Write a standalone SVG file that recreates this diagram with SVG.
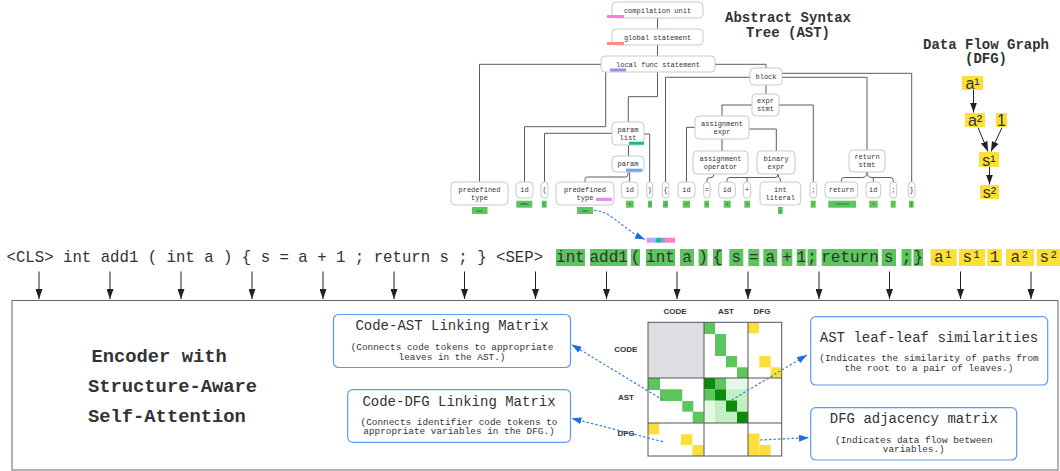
<svg xmlns="http://www.w3.org/2000/svg" width="1060" height="471" viewBox="0 0 1060 471">
<style>
.n{fill:#fff;stroke:#c6c9d1;stroke-width:1}
.t{font-family:"Liberation Mono",monospace;font-size:7px;fill:#333;text-anchor:middle}
.tg{fill:#5cc55c}
.tt{font-family:"Liberation Mono",monospace;font-size:3.6px;fill:#234;text-anchor:middle}
.c{fill:none;stroke:#585d65;stroke-width:1}
.ttl{font-family:"Liberation Mono",monospace;font-size:14px;font-weight:bold;fill:#333;text-anchor:middle}
.tok{font-family:"Liberation Mono",monospace;font-size:16px;fill:#333;text-anchor:middle}
.gb{fill:#5cc55c}
.yb{fill:#fddf3a}
.dn{stroke:#222;stroke-width:1;marker-end:url(#ah)}
.bx{fill:#fff;stroke:#5a9bef;stroke-width:1.2}
.bt{font-family:"Liberation Mono",monospace;font-size:14px;fill:#333;text-anchor:middle}
.bs{font-family:"Liberation Mono",monospace;font-size:9.4px;fill:#333;text-anchor:middle}
.ml{font-family:"Liberation Sans",Arial,sans-serif;font-size:8px;font-weight:bold;fill:#333;text-anchor:middle}
.bd{fill:none;stroke:#3b7ddd;stroke-width:1.2;stroke-dasharray:2.5,2;marker-end:url(#bh)}
.dfg{font-family:"Liberation Sans",Arial,sans-serif;font-size:16px;fill:#333;text-anchor:middle}
.enc{font-family:"Liberation Mono",monospace;font-size:18.8px;font-weight:bold;fill:#333}
</style>
<defs>
<marker id="ah" markerUnits="userSpaceOnUse" markerWidth="10" markerHeight="7" refX="10" refY="3.5" orient="auto"><path d="M0,0 L10,3.5 L0,7 z" fill="#222"/></marker>
<marker id="bh" markerUnits="userSpaceOnUse" markerWidth="10" markerHeight="7" refX="10" refY="3.5" orient="auto"><path d="M0,0 L10,3.5 L0,7 z" fill="#1a6fe0"/></marker>
</defs>
<rect width="1060" height="471" fill="#fff"/>

<!-- titles -->
<g id="ast-title"><text class="ttl" x="788" y="22.3">Abstract Syntax</text><text class="ttl" x="788" y="37.3">Tree (AST)</text></g>
<g id="dfg-title"><text class="ttl" x="986" y="48.5">Data Flow Graph</text><text class="ttl" x="986" y="63">(DFG)</text></g>

<!-- AST connectors -->
<g id="ast-connectors" class="c">
<path d="M657.5,18 V29"/>
<path d="M657.5,45 V56"/>
<path d="M601,64.3 H479.5 V182"/>
<path d="M605.7,72 V126.7 H524.5 V182"/>
<path d="M657.5,72 V96.7 H628.3 V122"/>
<path d="M612,133.3 H544.5 V182"/>
<path d="M644,134 H649.7 V182"/>
<path d="M628.5,145 V156"/>
<path d="M628,172 V174.5 Q628,177 625.5,177 H587.5 Q585,177 585,179.5 V182"/>
<path d="M629.7,172 V182"/>
<path d="M715,64.3 H766 V68"/>
<path d="M750,77.3 H665.5 V182"/>
<path d="M782,73.3 H911.7 V182"/>
<path d="M782,77.3 H867 V150"/>
<path d="M766,85 V94"/>
<path d="M752,105 H722 V116"/>
<path d="M779,105 H813.3 V182"/>
<path d="M695,127.3 H686.5 V182"/>
<path d="M749,129 H776.3 V151"/>
<path d="M722,139 V151"/>
<path d="M714,174 Q714,177.5 711,177.5 H710 Q707,177.5 707,180 V182"/>
<path d="M778,174 Q778,177.5 775,177.5 H730 Q727,177.5 727,180 V182"/>
<path d="M747,177.5 V182"/>
<path d="M778,174 Q778,177.5 780.3,179 V182"/>
<path d="M867,172 Q867,177.5 862,177.5 H844.5 Q841.3,177.5 841.3,180 V182"/>
<path d="M867,172 Q867,177.5 872,177.5 H890 Q893.3,177.5 893.3,180 V182"/>
<path d="M873.3,177.5 V182"/>
</g>

<!-- AST interior nodes -->
<g id="n-compilation-unit"><rect class="n" x="612" y="2" width="91" height="16" rx="4"/><text class="t" x="657.5" y="12.5">compilation unit</text><rect x="607" y="15" width="17" height="3" fill="#ff7ad9"/></g>
<g id="n-global-statement"><rect class="n" x="612" y="29" width="91" height="16" rx="4"/><text class="t" x="657.5" y="39.5">global statement</text><rect x="607" y="42" width="17" height="3" fill="#ff8a8a"/></g>
<g id="n-local-func"><rect class="n" x="601" y="56" width="114" height="16" rx="4"/><text class="t" x="658" y="66.5">local func statement</text><rect x="610" y="68.5" width="16" height="3" fill="#8f8ff2"/></g>
<g id="n-block"><rect class="n" x="750" y="68" width="32" height="17" rx="4"/><text class="t" x="766" y="79.3">block</text></g>
<g id="n-expr-stmt"><rect class="n" x="752" y="94" width="27" height="22" rx="4"/><text class="t" x="765.5" y="102.5">expr</text><text class="t" x="765.5" y="110.8">stmt</text></g>
<g id="n-param-list"><rect class="n" x="612" y="122" width="32" height="23" rx="4"/><text class="t" x="628" y="131.8">param</text><text class="t" x="628" y="139.8">list</text><rect x="629" y="141.7" width="15" height="3" fill="#17b897"/></g>
<g id="n-param"><rect class="n" x="612" y="156" width="32" height="16" rx="4"/><text class="t" x="628" y="166.3">param</text><rect x="626" y="168.7" width="16" height="3" fill="#6aa7f7"/></g>
<g id="n-assignment-expr"><rect class="n" x="695" y="116" width="54" height="23" rx="4"/><text class="t" x="722" y="125.8">assignment</text><text class="t" x="722" y="134.3">expr</text></g>
<g id="n-assignment-operator"><rect class="n" x="693" y="151" width="55" height="23" rx="4"/><text class="t" x="720.5" y="161">assignment</text><text class="t" x="720.5" y="169">operator</text></g>
<g id="n-binary-expr"><rect class="n" x="757" y="151" width="38" height="23" rx="4"/><text class="t" x="776" y="161">binary</text><text class="t" x="776" y="169">expr</text></g>
<g id="n-return-stmt"><rect class="n" x="849" y="150" width="36" height="22" rx="4"/><text class="t" x="867" y="158.8">return</text><text class="t" x="867" y="166.8">stmt</text></g>

<!-- AST leaves -->
<g id="l-pt1"><rect class="n" x="451" y="182" width="57" height="23" rx="4"/><text class="t" x="479.5" y="191.5">predefined</text><text class="t" x="479.5" y="199.7">type</text><rect class="tg" x="472" y="207" width="15.5" height="7"/><text class="tt" x="479.7" y="211.8">int</text></g>
<g id="l-id1"><rect class="n" x="516" y="182" width="17" height="16" rx="4"/><text class="t" x="524.5" y="192.3">id</text><rect class="tg" x="516.3" y="200.7" width="16" height="7"/><text class="tt" x="524.3" y="205.4">add1</text></g>
<g id="l-lp"><rect class="n" x="541" y="182" width="7" height="16" rx="3"/><text class="t" x="544.5" y="192.3">(</text><rect class="tg" x="541.7" y="200.7" width="5" height="7"/><text class="tt" x="544.2" y="205.4">(</text></g>
<g id="l-pt2"><rect class="n" x="556" y="182" width="58" height="23" rx="4"/><text class="t" x="585" y="191.5">predefined</text><text class="t" x="585" y="199.7">type</text><rect x="596" y="197.7" width="16" height="3.3" fill="#dd8ff2"/><rect class="tg" x="577" y="207" width="16" height="7"/><text class="tt" x="585" y="211.8">int</text></g>
<g id="l-id2"><rect class="n" x="621.3" y="182" width="16.7" height="16" rx="4"/><text class="t" x="629.7" y="192.3">id</text><rect class="tg" x="626" y="200.7" width="7.7" height="7"/><text class="tt" x="629.8" y="205.4">a</text></g>
<g id="l-rp"><rect class="n" x="646.7" y="182" width="6" height="16" rx="3"/><text class="t" x="649.7" y="192.3">)</text><rect class="tg" x="648" y="200.7" width="4" height="7"/><text class="tt" x="650" y="205.4">)</text></g>
<g id="l-lb"><rect class="n" x="662.3" y="182" width="6.4" height="16" rx="3"/><text class="t" x="665.5" y="192.3">{</text><rect class="tg" x="663" y="200.7" width="5" height="7"/><text class="tt" x="665.5" y="205.4">{</text></g>
<g id="l-id3"><rect class="n" x="678" y="182" width="17" height="16" rx="4"/><text class="t" x="686.5" y="192.3">id</text><rect class="tg" x="682.7" y="200.7" width="7.3" height="7"/><text class="tt" x="686.3" y="205.4">s</text></g>
<g id="l-eq"><rect class="n" x="703.7" y="182" width="6.3" height="16" rx="3"/><text class="t" x="706.9" y="192.3">=</text><rect class="tg" x="704.3" y="200.7" width="4.7" height="7"/><text class="tt" x="706.7" y="205.4">=</text></g>
<g id="l-id4"><rect class="n" x="718.7" y="182" width="16.6" height="16" rx="4"/><text class="t" x="727" y="192.3">id</text><rect class="tg" x="723.7" y="200.7" width="7" height="7"/><text class="tt" x="727.2" y="205.4">a</text></g>
<g id="l-plus"><rect class="n" x="743.3" y="182" width="7.4" height="16" rx="3"/><text class="t" x="747" y="192.3">+</text><rect class="tg" x="744.3" y="200.7" width="5.7" height="7"/><text class="tt" x="747.2" y="205.4">+</text></g>
<g id="l-intlit"><rect class="n" x="760" y="182" width="40.7" height="23" rx="4"/><text class="t" x="780.3" y="191.5">int</text><text class="t" x="780.3" y="199.7">literal</text><rect class="tg" x="778" y="207" width="4.7" height="7"/><text class="tt" x="780.3" y="211.8">1</text></g>
<g id="l-semi1"><rect class="n" x="810" y="182" width="6.7" height="16" rx="3"/><text class="t" x="813.3" y="192.3">;</text><rect class="tg" x="810.7" y="200.7" width="5" height="7"/><text class="tt" x="813.2" y="205.4">;</text></g>
<g id="l-return"><rect class="n" x="825" y="182" width="32.7" height="16" rx="4"/><text class="t" x="841.3" y="192.3">return</text><rect class="tg" x="828.3" y="200.7" width="27.7" height="7"/><text class="tt" x="842.1" y="205.4">return</text></g>
<g id="l-id5"><rect class="n" x="866" y="182" width="14.7" height="16" rx="4"/><text class="t" x="873.3" y="192.3">id</text><rect class="tg" x="869.3" y="200.7" width="8.4" height="7"/><text class="tt" x="873.5" y="205.4">s</text></g>
<g id="l-semi2"><rect class="n" x="890" y="182" width="6.7" height="16" rx="3"/><text class="t" x="893.3" y="192.3">;</text><rect class="tg" x="890.7" y="200.7" width="5" height="7"/><text class="tt" x="893.2" y="205.4">;</text></g>
<g id="l-rb"><rect class="n" x="908.3" y="182" width="6.7" height="16" rx="3"/><text class="t" x="911.7" y="192.3">}</text><rect class="tg" x="909" y="200.7" width="4.7" height="7"/><text class="tt" x="911.3" y="205.4">}</text></g>

<!-- DFG graph -->
<g id="dfg-edges" stroke="#222" stroke-width="1">
<line x1="973.5" y1="90" x2="973.5" y2="112.5" marker-end="url(#ah)"/>
<line x1="978" y1="127.5" x2="988" y2="151.5" marker-end="url(#ah)"/>
<line x1="1002" y1="127.5" x2="991" y2="151.5" marker-end="url(#ah)"/>
<line x1="989.5" y1="167" x2="989.5" y2="184.5" marker-end="url(#ah)"/>
</g>
<g id="dfg-a1"><rect class="yb" x="962" y="76" width="21" height="14"/><text class="dfg" x="972.5" y="89">a¹</text></g>
<g id="dfg-a2"><rect class="yb" x="965" y="113" width="20" height="14"/><text class="dfg" x="975" y="126.3">a²</text></g>
<g id="dfg-1"><rect class="yb" x="996" y="113" width="11" height="14"/><text class="dfg" x="1001.5" y="126.3">1</text></g>
<g id="dfg-s1"><rect class="yb" x="979" y="152" width="20" height="15"/><text class="dfg" x="989" y="165.5">s¹</text></g>
<g id="dfg-s2"><rect class="yb" x="980" y="185" width="19" height="14"/><text class="dfg" x="989.5" y="198">s²</text></g>

<!-- token sequence -->
<g id="tokens-plain"><text class="tok" style="text-anchor:start;font-size:15.7px" x="6.5" y="262">&lt;CLS&gt; int add1 ( int a ) { s = a + 1 ; return s ; } &lt;SEP&gt;</text></g>
<g id="tokens-code">
<rect class="gb" x="556" y="249" width="29" height="17"/><text class="tok" x="570.5" y="262">int</text>
<rect class="gb" x="590" y="249" width="37.3" height="17"/><text class="tok" x="608.7" y="262">add1</text>
<rect class="gb" x="631" y="249" width="9" height="17"/><text class="tok" x="635.5" y="262">(</text>
<rect class="gb" x="646" y="249" width="29" height="17"/><text class="tok" x="660.5" y="262">int</text>
<rect class="gb" x="680" y="249" width="14" height="17"/><text class="tok" x="687" y="262">a</text>
<rect class="gb" x="698.5" y="249" width="9" height="17"/><text class="tok" x="703" y="262">)</text>
<rect class="gb" x="713" y="249" width="9" height="17"/><text class="tok" x="717.5" y="262">{</text>
<rect class="gb" x="729.3" y="249" width="14" height="17"/><text class="tok" x="736.3" y="262">s</text>
<rect class="gb" x="748.3" y="249" width="11" height="17"/><text class="tok" x="753.8" y="262">=</text>
<rect class="gb" x="763.3" y="249" width="14" height="17"/><text class="tok" x="770.3" y="262">a</text>
<rect class="gb" x="781.7" y="249" width="10.6" height="17"/><text class="tok" x="787" y="262">+</text>
<rect class="gb" x="796.7" y="249" width="9" height="17"/><text class="tok" x="801.2" y="262">1</text>
<rect class="gb" x="807.5" y="249" width="9" height="17"/><text class="tok" x="812" y="262">;</text>
<rect class="gb" x="821.7" y="249" width="56.6" height="17"/><text class="tok" x="850" y="262">return</text>
<rect class="gb" x="881.7" y="249" width="14.3" height="17"/><text class="tok" x="888.8" y="262">s</text>
<rect class="gb" x="901.5" y="249" width="10" height="17"/><text class="tok" x="906.5" y="262">;</text>
<rect class="gb" x="913.5" y="249" width="9.5" height="17"/><text class="tok" x="918.2" y="262">}</text>
</g>
<g id="tokens-dfg">
<rect class="yb" x="930.7" y="249" width="26" height="17"/><text class="tok" x="943.7" y="262">a¹</text>
<rect class="yb" x="959" y="249" width="26" height="17"/><text class="tok" x="972" y="262">s¹</text>
<rect class="yb" x="987.3" y="249" width="14.4" height="17"/><text class="tok" x="994.5" y="262">1</text>
<rect class="yb" x="1006" y="249" width="28" height="17"/><text class="tok" x="1020" y="262">a²</text>
<rect class="yb" x="1036.7" y="249" width="25" height="17"/><text class="tok" x="1049" y="262">s²</text>
</g>

<!-- path-color strip -->
<g id="strip">
<rect x="646.7" y="237.7" width="4.8" height="5" fill="#dd8ff2"/>
<rect x="651.4" y="237.7" width="4.8" height="5" fill="#8fbaf7"/>
<rect x="656.1" y="237.7" width="4.8" height="5" fill="#17b897"/>
<rect x="660.8" y="237.7" width="4.8" height="5" fill="#8f8ff2"/>
<rect x="665.5" y="237.7" width="4.8" height="5" fill="#ff8a8a"/>
<rect x="670.2" y="237.7" width="4.8" height="5" fill="#ff7ad9"/>
</g>

<!-- down arrows -->
<g id="down-arrows" class="dn">
<line x1="39" y1="271.5" x2="39" y2="299"/>
<line x1="110" y1="271.5" x2="110" y2="299"/>
<line x1="181" y1="271.5" x2="181" y2="299"/>
<line x1="252" y1="271.5" x2="252" y2="299"/>
<line x1="323" y1="271.5" x2="323" y2="299"/>
<line x1="394" y1="271.5" x2="394" y2="299"/>
<line x1="464.5" y1="271.5" x2="464.5" y2="299"/>
<line x1="535.5" y1="271.5" x2="535.5" y2="299"/>
<line x1="606.5" y1="271.5" x2="606.5" y2="299"/>
<line x1="677" y1="271.5" x2="677" y2="299"/>
<line x1="748" y1="271.5" x2="748" y2="299"/>
<line x1="819" y1="271.5" x2="819" y2="299"/>
<line x1="889.5" y1="271.5" x2="889.5" y2="299"/>
<line x1="960.5" y1="271.5" x2="960.5" y2="299"/>
<line x1="1031" y1="271.5" x2="1031" y2="299"/>
</g>

<!-- encoder frame -->
<g id="encoder">
<rect x="12" y="300.5" width="1046" height="169.5" fill="none" stroke="#666" stroke-width="1"/>
<text class="enc" x="91.5" y="361.5">Encoder with</text>
<text class="enc" x="88" y="392">Structure-Aware</text>
<text class="enc" x="88" y="422">Self-Attention</text>
</g>

<!-- matrix -->
<g id="matrix">
<rect x="648" y="322.3" width="56" height="55.7" fill="#dcdee2"/>
<rect class="gb" x="704" y="322.3" width="11" height="11.7"/>
<rect class="gb" x="715" y="334" width="11" height="22"/>
<rect class="gb" x="726" y="356" width="11" height="11.3"/>
<rect class="gb" x="737" y="367.3" width="11" height="10.7"/>
<rect class="yb" x="748" y="322.3" width="11" height="11"/>
<rect class="yb" x="759.3" y="356" width="11.4" height="11.3"/>
<rect class="yb" x="770.7" y="367.3" width="11" height="10.7"/>
<rect class="gb" x="648" y="378" width="12" height="12"/>
<rect class="gb" x="660" y="389.3" width="22.3" height="11.7"/>
<rect class="gb" x="682.3" y="401" width="11" height="10.7"/>
<rect class="gb" x="692.7" y="411.7" width="11" height="11"/>
<rect x="704" y="378" width="44" height="45" fill="#e3f9e3"/>
<rect x="715" y="389.3" width="33" height="33.7" fill="#c2f0c2"/>
<rect x="704" y="378" width="11" height="11.3" fill="#0b8a0b"/>
<rect class="gb" x="715" y="378" width="11" height="11.3"/>
<rect class="gb" x="704" y="389.3" width="11" height="11.2"/>
<rect x="715" y="389.3" width="11" height="11.2" fill="#0b8a0b"/>
<rect x="726" y="400.5" width="11" height="11.2" fill="#0b8a0b"/>
<rect x="737" y="411.7" width="11" height="11.3" fill="#0b8a0b"/>
<rect class="yb" x="648" y="423" width="11" height="11.3"/>
<rect class="yb" x="681" y="434.3" width="11.3" height="10.7"/>
<rect class="yb" x="692.3" y="445" width="11.4" height="11"/>
<rect class="yb" x="748" y="433.5" width="11.5" height="22.5"/>
<rect class="yb" x="759.5" y="445" width="11.2" height="11"/>
<g fill="none" stroke="#555" stroke-width="1">
<rect x="648" y="322.3" width="133.7" height="133.7"/>
<line x1="704" y1="322.3" x2="704" y2="456"/>
<line x1="748" y1="322.3" x2="748" y2="456"/>
<line x1="648" y1="378" x2="781.7" y2="378"/>
<line x1="648" y1="423" x2="781.7" y2="423"/>
</g>
<text class="ml" x="675" y="313.5">CODE</text>
<text class="ml" x="726" y="313.5">AST</text>
<text class="ml" x="762" y="313.5">DFG</text>
<text class="ml" x="625.7" y="352.2">CODE</text>
<text class="ml" x="626" y="399.6">AST</text>
<text class="ml" x="626" y="436.2">DFG</text>
</g>

<!-- explanation boxes -->
<g id="box-code-ast"><rect class="bx" x="333.5" y="314.5" width="237" height="53" rx="5"/><text class="bt" x="452" y="330">Code-AST Linking Matrix</text><text class="bs" x="452" y="349.5">(Connects code tokens to appropriate</text><text class="bs" x="452" y="359.5">leaves in the AST.)</text></g>
<g id="box-code-dfg"><rect class="bx" x="347.7" y="389.7" width="222.8" height="52.6" rx="5"/><text class="bt" x="459" y="405.5">Code-DFG Linking Matrix</text><text class="bs" x="459" y="424.6">(Connects identifier code tokens to</text><text class="bs" x="459" y="434">appropriate variables in the DFG.)</text></g>
<g id="box-ast-leaf"><rect class="bx" x="810.7" y="316.7" width="237" height="68.3" rx="5"/><text class="bt" x="929" y="341.5">AST leaf-leaf similarities</text><text class="bs" x="929" y="360.7">(Indicates the similarity of paths from</text><text class="bs" x="929" y="370.7">the root to a pair of leaves.)</text></g>
<g id="box-dfg-adj"><rect class="bx" x="810.7" y="407.7" width="206" height="52.3" rx="5"/><text class="bt" x="913.8" y="423">DFG adjacency matrix</text><text class="bs" x="913.8" y="443">(Indicates data flow between</text><text class="bs" x="913.8" y="452.3">variables.)</text></g>

<!-- blue dashed connectors -->
<g id="dashed-connectors">
<path class="bd" d="M663,400 L571.5,344.5"/>
<path class="bd" d="M663,441.7 L571.5,418.3"/>
<path class="bd" d="M731.7,400 L807,355"/>
<path class="bd" d="M760,440 L809,437.7"/>
<path class="bd" d="M594,210.5 C612,211 622,229 645,239.6"/>
</g>
</svg>
